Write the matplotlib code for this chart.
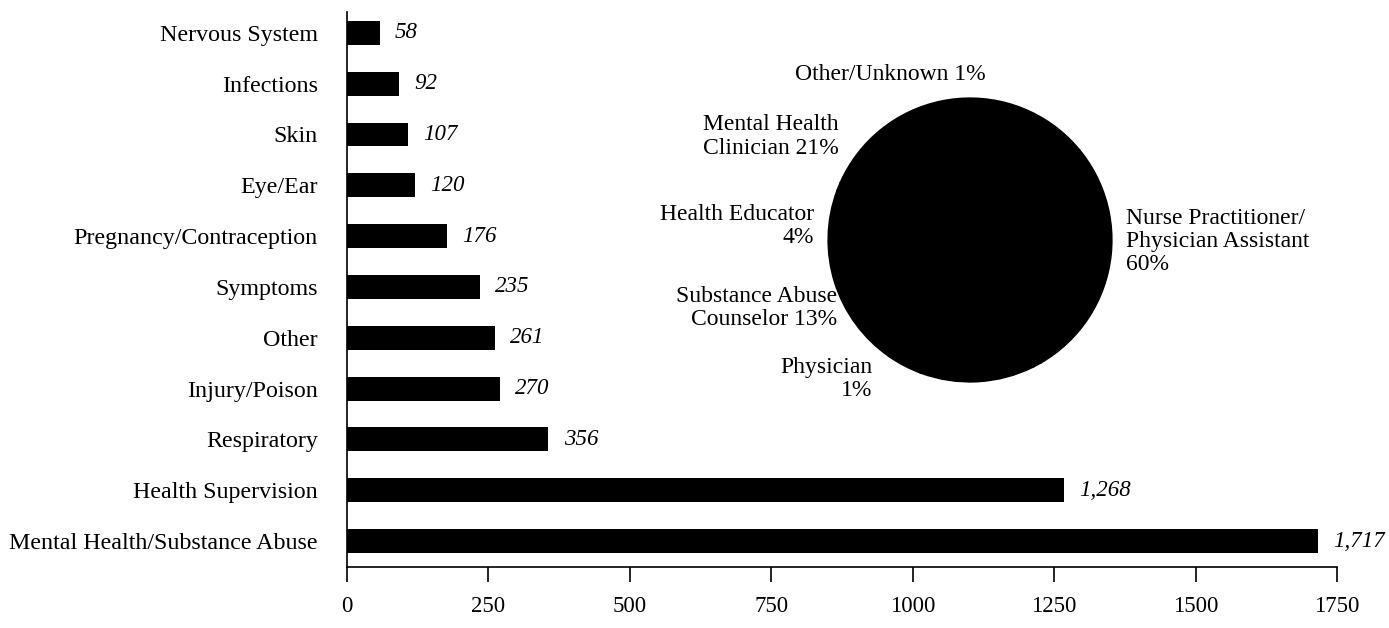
import matplotlib
matplotlib.use('Agg')
import matplotlib.pyplot as plt

plt.rcParams['font.family'] = ['Liberation Serif', 'DejaVu Serif']

categories = ['Nervous System', 'Infections', 'Skin', 'Eye/Ear', 'Pregnancy/Contraception',
              'Symptoms', 'Other', 'Injury/Poison', 'Respiratory', 'Health Supervision',
              'Mental Health/Substance Abuse']
visits = [58, 92, 107, 120, 176, 235, 261, 270, 356, 1268, 1717]
visit_labels = ['58', '92', '107', '120', '176', '235', '261', '270', '356', '1,268', '1,717']

providers = ['Nurse Practitioner/\nPhysician Assistant\n60%', 'Other/Unknown 1%',
             'Mental Health\nClinician 21%', 'Health Educator\n4%',
             'Substance Abuse\nCounselor 13%', 'Physician\n1%']
provider_share = [60, 1, 21, 4, 13, 1]

W, H = 1389, 628
fig = plt.figure(figsize=(W / 100, H / 100), dpi=100)
ax = fig.add_axes([347 / W, 1 - 567 / H, (1337 - 347) / W, (567 - 12) / H])

ypos = list(range(len(categories)))[::-1]
ax.barh(ypos, visits, height=0.47, color='black')
for y, v, lab in zip(ypos, visits, visit_labels):
    ax.annotate(lab, xy=(v, y), xytext=(11, 0), textcoords='offset points',
                ha='left', va='center', fontsize=16.5, style='italic')

ax.set_yticks(ypos)
ax.set_yticklabels(categories, fontsize=17.3)
ax.tick_params(axis='y', length=0, pad=21)
ax.set_xlim(0, 1750)
ax.set_ylim(-0.51, 10.41)
ax.set_xticks([0, 250, 500, 750, 1000, 1250, 1500, 1750])
ax.tick_params(axis='x', labelsize=16.5, length=11, width=1.2, direction='out', pad=10)
for s in ['top', 'right']:
    ax.spines[s].set_visible(False)
ax.spines['left'].set_linewidth(1.2)
ax.spines['bottom'].set_linewidth(1.2)

# pie inset, all wedges black
cx, cy, r = 970, 240, 143
ax2 = fig.add_axes([(cx - r) / W, 1 - (cy + r) / H, 2 * r / W, 2 * r / H])
ax2.pie(provider_share, colors=['black'] * len(provider_share), startangle=-60,
        wedgeprops=dict(edgecolor='black', linewidth=1.5))
ax2.set_xlim(-1.01, 1.01)
ax2.set_ylim(-1.01, 1.01)
ax2.set_aspect('auto')

pie_text = [
    (1.10, -0.01, 'left', providers[0]),
    (-0.56, 1.17, 'center', providers[1]),
    (-0.93, 0.73, 'right', providers[2]),
    (-1.10, 0.10, 'right', providers[3]),
    (-0.94, -0.48, 'right', providers[4]),
    (-0.69, -0.98, 'right', providers[5]),
]
for x, y, ha, t in pie_text:
    ax2.text(x, y, t, ha=ha, va='center', multialignment=ha,
             fontsize=17, linespacing=1.15, clip_on=False)

fig.savefig('out.png', dpi=100)
